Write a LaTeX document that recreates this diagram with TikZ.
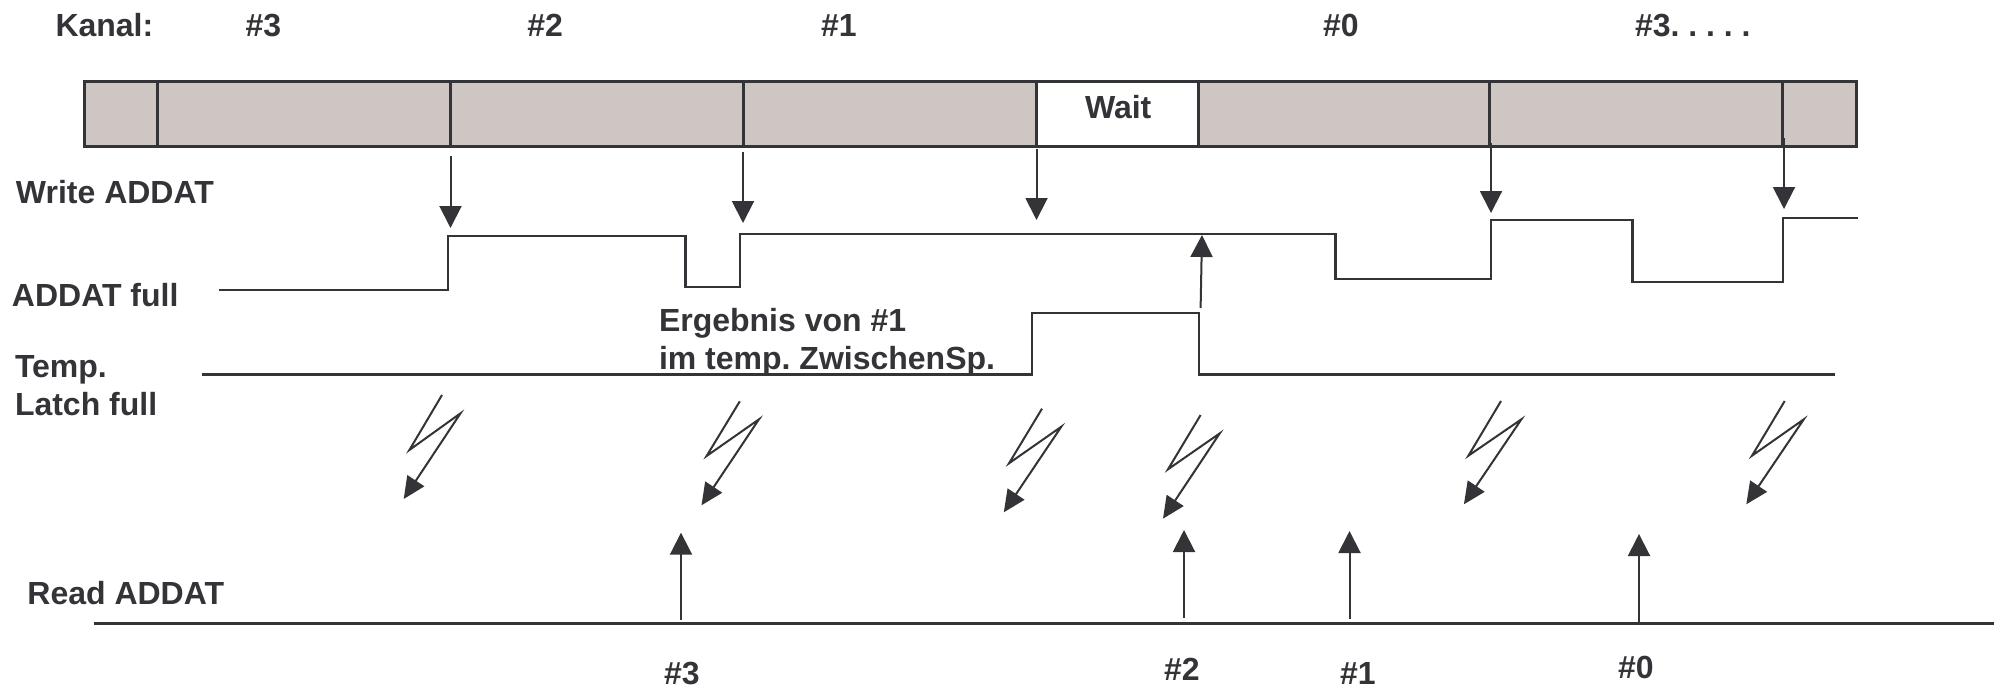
\documentclass[tikz,border=0pt]{standalone}
\usepackage{fontspec}
\setmainfont{Liberation Sans}
\usetikzlibrary{arrows.meta}
\definecolor{ink}{HTML}{333338}
\definecolor{barfill}{HTML}{CEC6C3}
\frenchspacing
\tikzset{
  lab/.style={anchor=base west,inner sep=0pt,outer sep=0pt,text=ink,font=\fontsize{32}{36}\selectfont\bfseries},
  seg/.style={draw=ink,line width=3pt,fill=barfill,rectangle,inner sep=0pt,outer sep=0pt,anchor=north west,minimum height=65pt},
  sig/.style={draw=ink,line width=2.6pt,line cap=butt,line join=miter},
  evt/.style={draw=ink,line width=2pt,-{Triangle[length=22pt,width=22pt]}},
  bolt/.style={draw=ink,line width=2pt,line join=miter,-{Triangle[length=22pt,width=20pt]}},
}
\newcommand{\segbox}[4][]{\node[seg,#1,minimum width=#4pt] (#2) at (#3,81) {};}
\begin{document}
\begin{tikzpicture}[x=1pt,y=-1pt]
\useasboundingbox (0,0) rectangle (2002,691);
% bar
\segbox{s0}{84}{73}
\segbox{s1}{157}{293}
\segbox{s2}{450}{293}
\segbox{s3}{743}{293}
\segbox[fill=white]{w}{1036}{162}
\segbox{s4}{1198}{291.5}
\segbox{s5}{1489.5}{292.5}
\segbox{s6}{1782}{74}
% labels
\node[lab] (kanal) at (55.5,36) {Kanal:};
\node[lab] (k3) at (245.5,36) {\#3};
\node[lab] (k2) at (527.4,36) {\#2};
\node[lab] (k1) at (821,36) {\#1};
\node[lab] (k0) at (1323,36) {\#0};
\node[lab] (k3b) at (1635,36) {\#3. . . . .};
\node[lab] (wait) at (1085,118) {Wait};
\node[lab] (wr) at (16,203) {Write ADDAT};
\node[lab] (full) at (12,306) {ADDAT full};
\node[lab] (erg1) at (659,331) {Ergebnis von \#1};
\node[lab] (erg2) at (659,369) {im temp. ZwischenSp.};
\node[lab] (tmp) at (15,377) {Temp.};
\node[lab] (lat) at (15,415) {Latch full};
\node[lab] (rd) at (27.4,604) {Read ADDAT};
\node[lab] (b3) at (664,684) {\#3};
\node[lab] (b2) at (1164,680) {\#2};
\node[lab] (b1) at (1340,684) {\#1};
\node[lab] (b0) at (1618,678) {\#0};
% write arrows
\coordinate (wa1) at (450.5,156); \coordinate (wb1) at (450.5,228);
\coordinate (wa2) at (743,152);   \coordinate (wb2) at (743,223);
\coordinate (wa3) at (1036.5,149);\coordinate (wb3) at (1036.5,220);
\coordinate (wa4) at (1491,143);  \coordinate (wb4) at (1491,213);
\coordinate (wa5) at (1784,138);  \coordinate (wb5) at (1784,209);
\foreach \i in {1,...,5} {\draw[evt] (wa\i) -- (wb\i);}
% ADDAT full
\coordinate (fs) at (219,290);
\coordinate (fe) at (1858,218);
\draw[sig] (fs) -- (448,290) -- (448,236) -- (685.5,236) -- (685.5,287) -- (740,287) -- (740,234)
  -- (1335.5,234) -- (1335.5,279) -- (1491,279) -- (1491,220) -- (1632.6,220) -- (1632.6,282)
  -- (1783,282) -- (1783,218) -- (fe);
% Temp latch
\coordinate (ts) at (201.5,374.5);
\coordinate (te) at (1835,374.5);
\draw[sig] (ts) -- (1032,374.5) -- (1032,313) -- (1199,313) -- (1199,374.5) -- (te);
\coordinate (ua) at (1200.6,308); \coordinate (ub) at (1202,235);
\draw[evt] (ua) -- (ub);
% lightning
\foreach \n/\ax/\ay/\bx/\by/\cx/\cy/\dx/\dy in {
  1/442/395/409.4/450/460.5/413.3/403.7/499,
  2/739.8/401.3/706.6/456/759/419.3/701.5/505.3,
  3/1042/408.7/1009/463.3/1061.3/426.7/1003.8/512.3,
  4/1200.6/415/1168/469.3/1219.8/433.3/1163/518.7,
  5/1501/401/1468.4/455.7/1521.4/419.3/1463.9/504.3,
  6/1784.7/401/1752/455.7/1803.8/419.3/1746.3/504.3} {
  \draw[bolt] (\ax,\ay) -- (\bx,\by) -- (\cx,\cy) -- (\dx,\dy);
}
% read line
\coordinate (rs) at (94,623.7);
\coordinate (re) at (1993.6,623.7);
\draw[sig] (rs) -- (re);
\coordinate (ra1) at (681,620);    \coordinate (rb1) at (681,532.7);
\coordinate (ra2) at (1184,617.7); \coordinate (rb2) at (1184,530);
\coordinate (ra3) at (1349.5,619); \coordinate (rb3) at (1349.5,531);
\coordinate (ra4) at (1639,621.7); \coordinate (rb4) at (1639,534);
\foreach \i in {1,...,4} {\draw[evt] (ra\i) -- (rb\i);}
\end{tikzpicture}
\end{document}
